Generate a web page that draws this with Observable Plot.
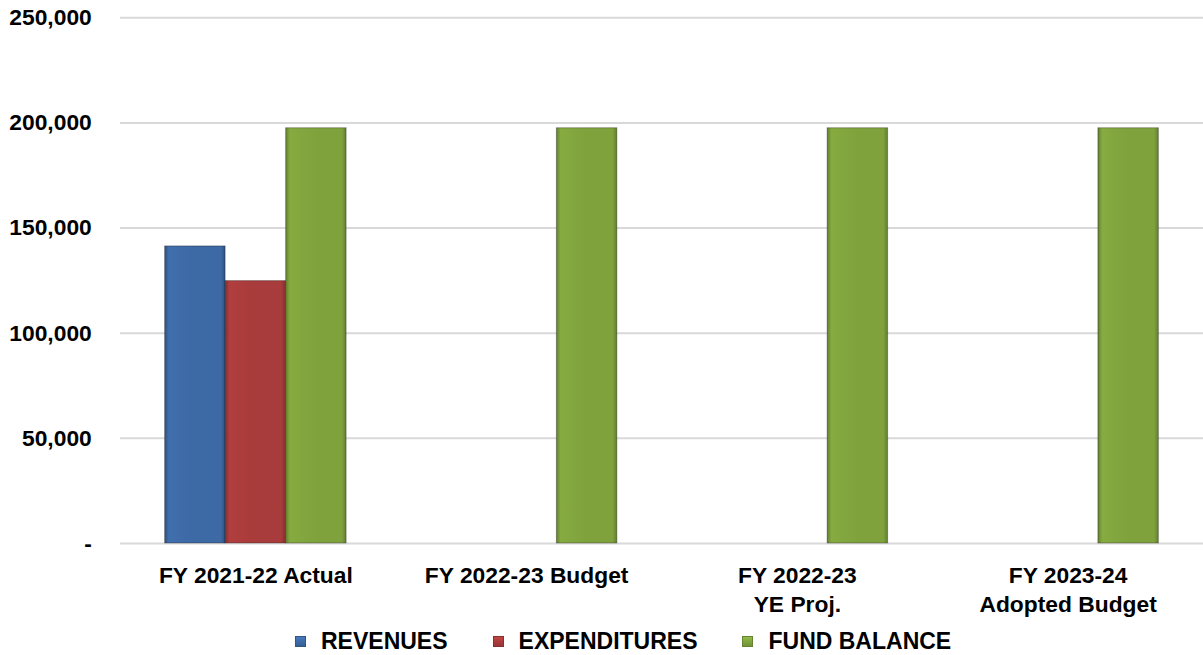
<!DOCTYPE html>
<html><head><meta charset="utf-8">
<script src="https://cdn.jsdelivr.net/npm/d3@7"></script>
<script src="https://cdn.jsdelivr.net/npm/@observablehq/plot@0.6"></script>
<style>
html,body{margin:0;padding:0;background:#fff;overflow:hidden;}
#wrap{position:relative;width:1203px;height:655px;overflow:hidden;font-family:"Liberation Sans",Arial,sans-serif;}
#wrap svg{position:absolute;left:0;top:0;}
#legend{position:absolute;left:295px;top:630px;display:flex;align-items:center;font:bold 23px/23px "Liberation Sans",Arial,sans-serif;color:#000;white-space:nowrap;}
.item{display:flex;align-items:center;margin-right:45px;}
.sw{width:11px;height:11px;margin-right:15px;box-sizing:border-box;}
</style></head><body><div id="wrap"><div id="legend"></div></div>
<script>
const categories = ["FY 2021-22 Actual", "FY 2022-23 Budget", "FY 2022-23\nYE Proj.", "FY 2023-24\nAdopted Budget"];
const seriesNames = ["REVENUES", "EXPENDITURES", "FUND BALANCE"];
const revenues = [141300, null, null, null];
const expenditures = [124800, null, null, null];
const fundBalance = [197500, 197500, 197500, 197500];
const yTicks = [0, 50000, 100000, 150000, 200000, 250000];
const seriesColors = ["#3d69a4", "#a83b3b", "#7fa23d"];

const rows = [];
categories.forEach((c, i) => {
  [revenues, expenditures, fundBalance].forEach((arr, j) => {
    if (arr[i] != null) rows.push({category: c, series: seriesNames[j], value: arr[i]});
  });
});

const fmt = d => d === 0 ? "-" : d3.format(",")(d);
const common = {width: 1213, height: 655, marginLeft: 121, marginRight: 0, marginTop: 17.5, marginBottom: 107.5,
  style: {background: "transparent", fontFamily: "'Liberation Sans', Arial, sans-serif", color: "#000"}};

const back = Plot.plot({
  ...common,
  y: {domain: [0, 250000]},
  marks: [
    Plot.gridY(yTicks, {stroke: "#d9d9d9", strokeOpacity: 1, strokeWidth: 2}),
    Plot.axisY(yTicks, {tickSize: 0, tickPadding: 29, tickFormat: fmt, fontSize: 23, fontWeight: "bold", label: null})
  ]
});

const gradIds = seriesColors.map((c, i) => "grad" + i);
const front = Plot.plot({
  ...common,
  fx: {domain: categories, paddingInner: 0.3297, paddingOuter: 0.1648, label: null},
  x: {domain: seriesNames, padding: 0, axis: null},
  y: {domain: [0, 250000], axis: null},
  color: {domain: seriesNames, range: gradIds.map(id => `url(#${id})`)},
  marks: [
    Plot.barY(rows, {fx: "category", x: "series", y: "value", fill: "series", stroke: "rgba(0,0,0,0.3)", strokeWidth: 1}),
    Plot.axisFx({anchor: "bottom", tickSize: 0, tickPadding: 19.5, fontSize: 23, fontWeight: "bold", lineHeight: 1.25, label: null})
  ]
});

const defs = d3.select(front).insert("defs", ":first-child");
seriesColors.forEach((c, i) => {
  const g = defs.append("linearGradient").attr("id", gradIds[i]).attr("x1", 0).attr("x2", 1).attr("y1", 0).attr("y2", 0);
  const base = d3.color(c);
  [[0, base.darker(0.7)], [0.07, base.brighter(0.15)], [0.5, base], [0.93, base], [1, base.darker(0.7)]]
    .forEach(([o, col]) => g.append("stop").attr("offset", o).attr("stop-color", col.formatHex()));
});

const wrap = document.getElementById("wrap");
wrap.insertBefore(back, wrap.firstChild);
wrap.insertBefore(front, document.getElementById("legend"));

const legend = d3.select("#legend");
seriesNames.forEach((s, i) => {
  const it = legend.append("div").attr("class", "item");
  const c = d3.color(seriesColors[i]);
  it.append("div").attr("class", "sw")
    .style("background", `linear-gradient(${c.brighter(0.4).formatHex()}, ${c.darker(0.3).formatHex()})`)
    .style("border", `1px solid ${c.darker(0.6).formatHex()}`);
  it.append("span").text(s);
});
</script></body></html>
